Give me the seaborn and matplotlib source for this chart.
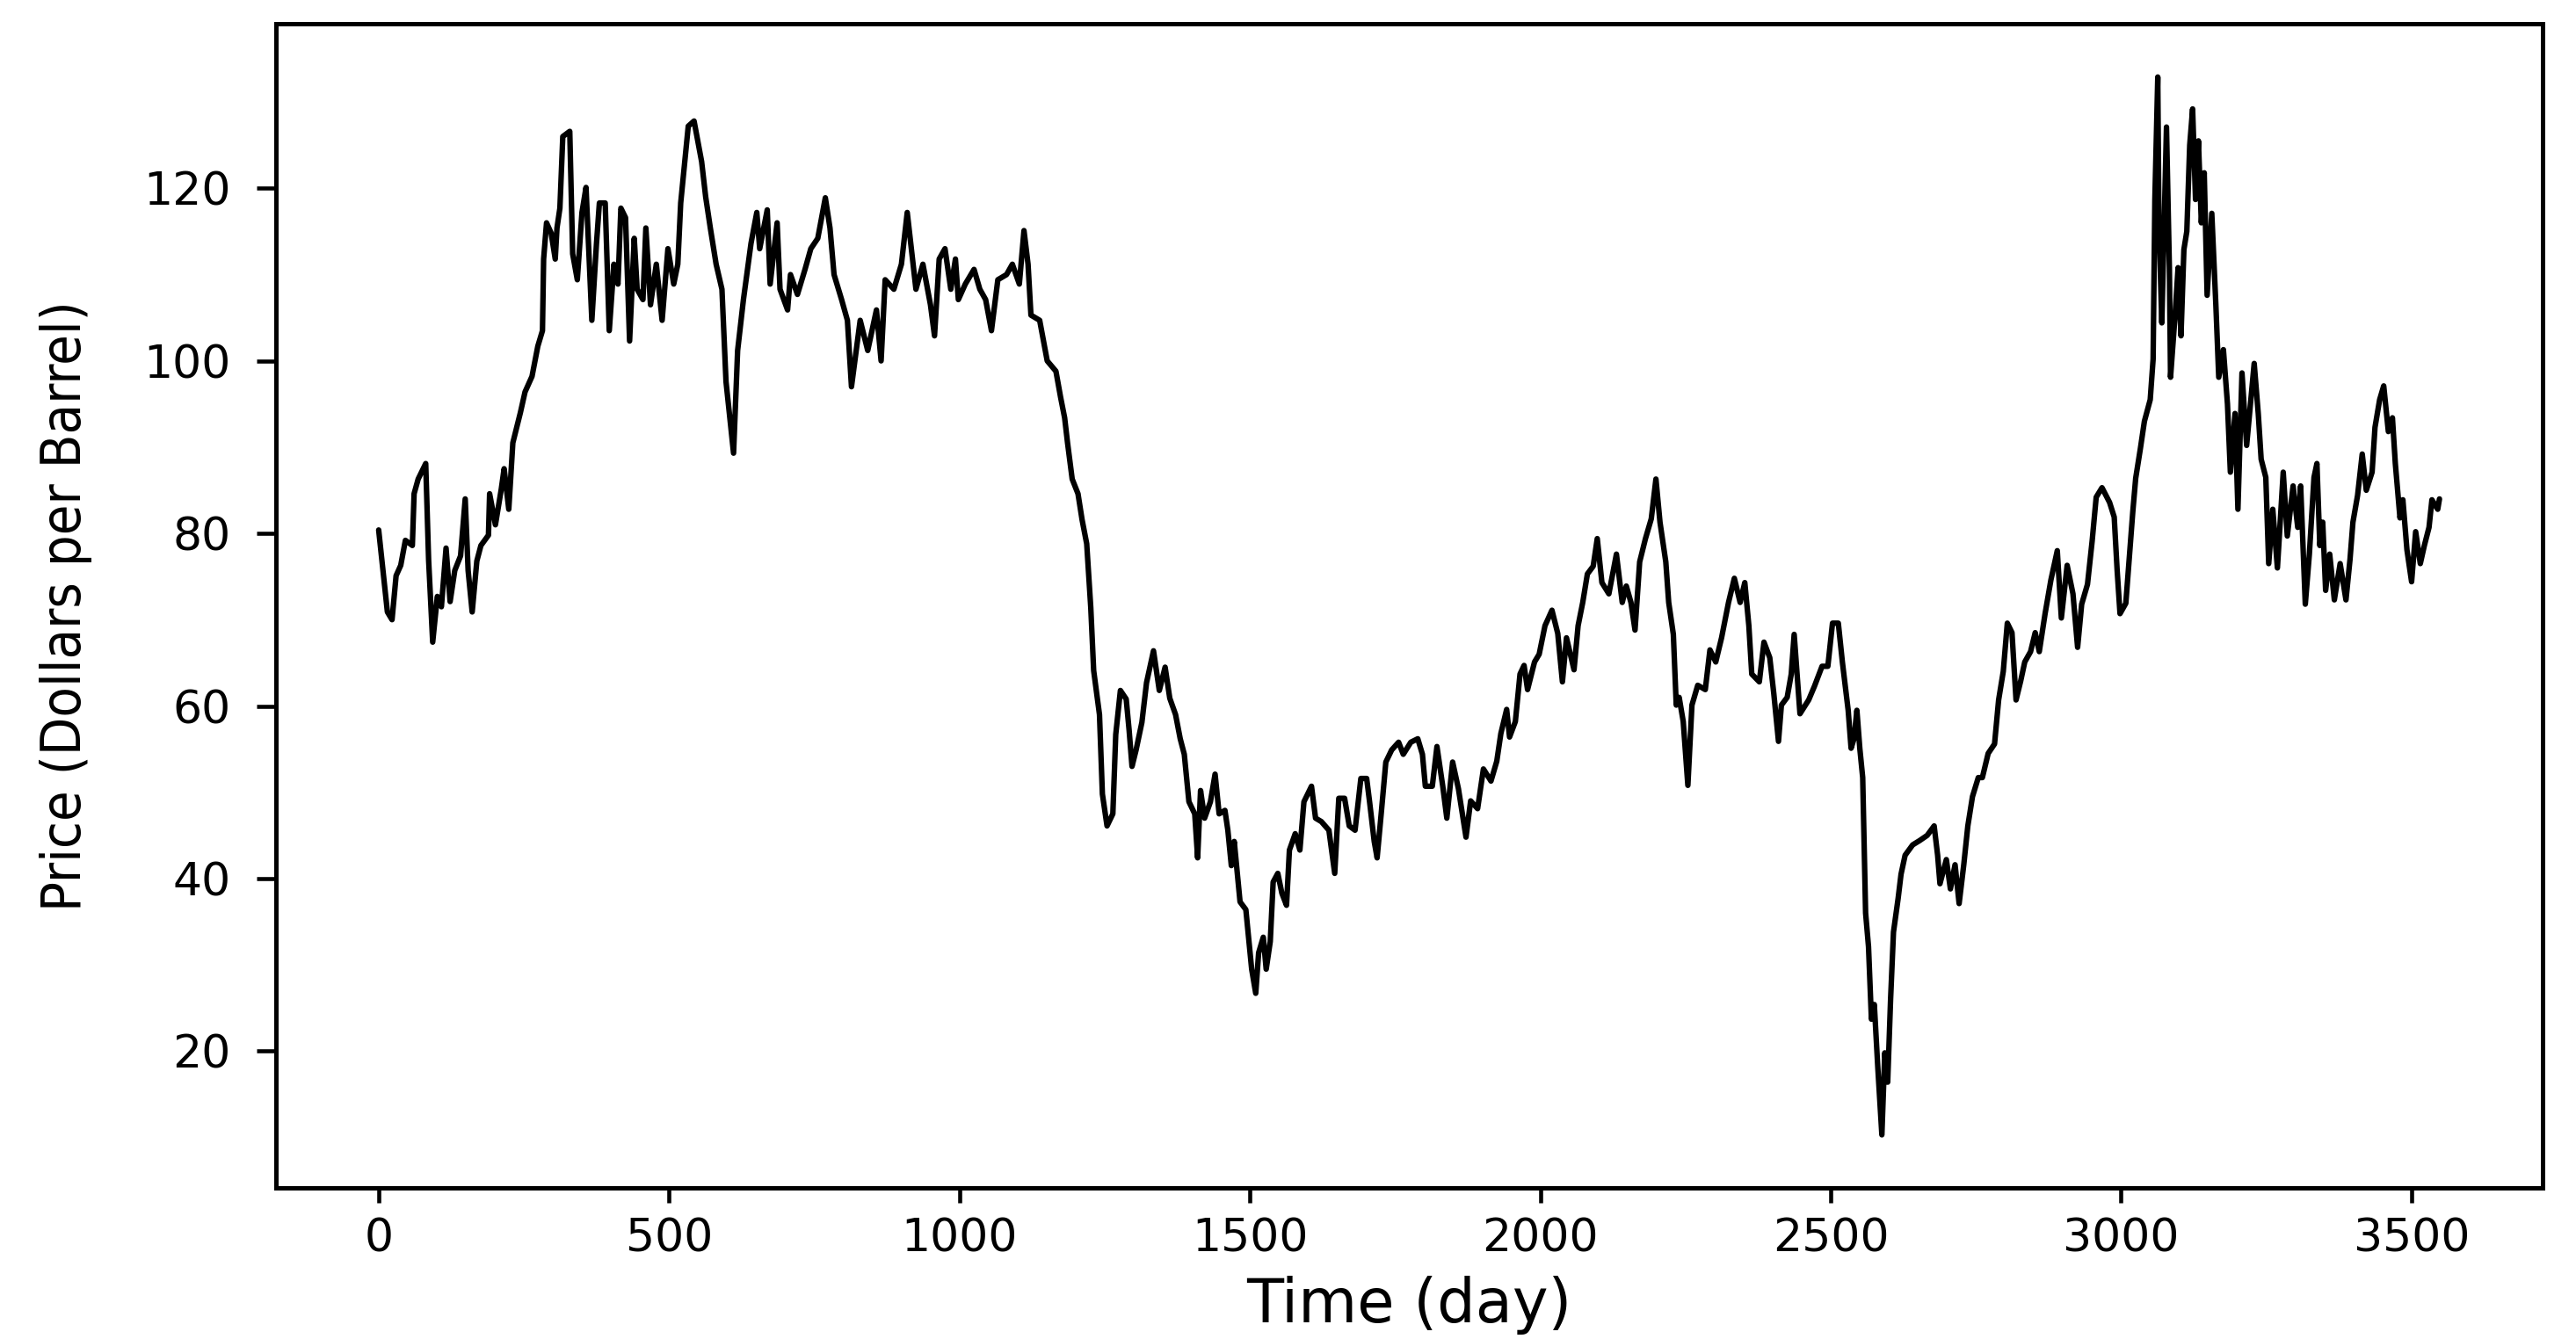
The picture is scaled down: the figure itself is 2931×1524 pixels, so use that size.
import pandas as pd
import matplotlib.pyplot as plt
import seaborn as sns
from matplotlib import font_manager

# daily price, split into chunks of roughly 600 days
days_a = [0, 15, 23, 30, 38, 46, 58, 61, 68, 81, 86, 93, 101, 108, 116, 123,
          131, 141, 149, 154, 161, 169, 176, 189, 191, 201, 211, 216, 224,
          231, 244, 252, 264, 274, 282, 284, 289, 297, 304, 307, 312, 317,
          329, 334, 342, 350, 357, 367, 375, 380, 390, 397, 405, 412, 417,
          425, 432, 440, 445, 455, 460, 468, 478, 488, 498, 508, 515, 520,
          533, 543, 556, 563, 571, 581, 591, 598, 611]
price_a = [80.4, 70.9, 70.0, 75.1, 76.3, 79.2, 78.6, 84.6, 86.3, 88.1, 76.9,
           67.4, 72.7, 71.5, 78.3, 72.1, 75.7, 77.4, 84.0, 75.7, 70.9, 76.8,
           78.6, 79.8, 84.6, 81.0, 85.1, 87.5, 82.8, 90.5, 94.0, 96.4, 98.2,
           101.7, 103.5, 111.8, 116.0, 114.8, 111.8, 115.4, 117.7, 126.0,
           126.6, 112.4, 109.4, 117.2, 120.1, 104.7, 113.6, 118.3, 118.3,
           103.5, 111.2, 108.9, 117.7, 116.6, 102.3, 114.2, 108.3, 107.1,
           115.4, 106.5, 111.2, 104.7, 113.0, 108.9, 111.2, 118.3, 127.2,
           127.8, 123.1, 119.0, 115.4, 111.2, 108.3, 97.6, 89.3]

days_b = [618, 628, 641, 651, 656, 669, 674, 686, 691, 704, 709, 721, 734,
          744, 756, 769, 777, 784, 797, 807, 814, 829, 842, 857, 865, 872,
          887, 900, 910, 917, 925, 937, 950, 957, 965, 975, 985, 993, 998,
          1010, 1025, 1035, 1045, 1055, 1066, 1081, 1091, 1103, 1111, 1118,
          1123, 1138, 1151, 1166, 1174, 1181, 1186, 1194, 1204, 1211]
price_b = [101.2, 107.1, 113.6, 117.2, 113.0, 117.5, 108.9, 116.0, 108.3,
           105.9, 110.0, 107.7, 110.6, 113.0, 114.2, 118.9, 115.4, 110.0,
           107.1, 104.7, 97.0, 104.7, 101.2, 105.9, 100.0, 109.4, 108.3,
           111.2, 117.2, 113.0, 108.3, 111.2, 106.5, 102.9, 111.8, 113.0,
           108.3, 111.8, 107.1, 108.9, 110.6, 108.3, 107.1, 103.5, 109.4,
           110.0, 111.2, 108.9, 115.1, 111.2, 105.3, 104.7, 100.0, 98.8,
           95.8, 93.4, 90.5, 86.3, 84.6, 81.6]

days_c = [1219, 1226, 1231, 1241, 1246, 1254, 1264, 1269, 1277, 1287, 1292,
          1297, 1304, 1314, 1322, 1334, 1344, 1354, 1362, 1372, 1380, 1387,
          1395, 1405, 1410, 1415, 1422, 1432, 1440, 1447, 1457, 1462, 1468,
          1473, 1483, 1493, 1503, 1510, 1515, 1523, 1528, 1535, 1540, 1548,
          1555, 1563, 1568, 1578, 1586, 1593, 1606, 1613, 1623, 1636, 1646,
          1653, 1663, 1671, 1681, 1691, 1701, 1706, 1714, 1719, 1726, 1734,
          1744, 1756, 1764, 1777, 1789, 1797, 1802, 1814, 1822, 1832, 1839,
          1849]
price_c = [78.8, 71.4, 64.1, 59.0, 49.8, 46.1, 47.5, 56.7, 61.8, 60.8, 57.2,
           53.0, 54.9, 58.1, 62.7, 66.4, 61.8, 64.5, 60.9, 59.0, 56.2, 54.4,
           48.9, 47.5, 42.4, 50.2, 47.0, 48.9, 52.1, 47.5, 47.9, 45.6, 41.5,
           44.3, 37.3, 36.4, 29.5, 26.7, 31.4, 33.2, 29.5, 32.7, 39.6, 40.6,
           38.3, 36.9, 43.3, 45.2, 43.3, 48.9, 50.7, 47.0, 46.6, 45.6, 40.6,
           49.3, 49.3, 46.1, 45.6, 51.6, 51.6, 48.9, 44.3, 42.4, 47.5, 53.5,
           54.9, 55.8, 54.4, 55.8, 56.2, 54.4, 50.7, 50.7, 55.3, 50.7, 47.0,
           53.5]

days_d = [1859, 1872, 1880, 1892, 1902, 1915, 1925, 1932, 1942, 1947, 1957,
          1965, 1972, 1978, 1990, 1998, 2008, 2020, 2030, 2038, 2045, 2058,
          2065, 2073, 2081, 2091, 2098, 2106, 2118, 2131, 2141, 2148, 2156,
          2163, 2171, 2181, 2191, 2199, 2206, 2216, 2221, 2229, 2234, 2239,
          2246, 2254, 2261, 2271, 2284, 2292, 2302, 2312, 2324, 2334, 2344,
          2352, 2359, 2364, 2377, 2385, 2395, 2402, 2410, 2415, 2425, 2432,
          2437, 2447]
price_d = [50.4, 44.8, 49.0, 48.1, 52.7, 51.3, 53.6, 56.8, 59.6, 56.4, 58.2,
           63.7, 64.7, 61.9, 65.1, 66.0, 69.3, 71.1, 68.4, 62.8, 67.9, 64.2,
           69.3, 72.0, 75.3, 76.2, 79.4, 74.3, 73.0, 77.6, 72.0, 73.9, 72.0,
           68.8, 76.7, 79.4, 81.7, 86.3, 81.3, 76.7, 72.0, 68.3, 60.1, 61.0,
           58.2, 50.8, 60.1, 62.4, 61.9, 66.5, 65.1, 67.9, 72.0, 74.8, 72.0,
           74.3, 69.3, 63.7, 62.8, 67.4, 65.6, 61.4, 55.9, 60.1, 61.0, 63.7,
           68.3, 59.1]

days_e = [2462, 2472, 2485, 2495, 2503, 2513, 2520, 2530, 2535, 2540, 2545,
          2550, 2555, 2560, 2565, 2570, 2575, 2581, 2588, 2593, 2598, 2603,
          2608, 2616, 2621, 2628, 2641, 2653, 2666, 2678, 2684, 2688, 2699,
          2706, 2714, 2721, 2729, 2736, 2744, 2754, 2761, 2771, 2782, 2789,
          2797, 2804, 2812, 2819, 2827, 2834, 2844, 2852, 2859, 2869, 2879,
          2890, 2897, 2907, 2917, 2925, 2932, 2942, 2950, 2957, 2967, 2980,
          2988, 2993, 2998, 3008, 3015, 3020, 3025, 3033, 3040]
price_e = [60.7, 62.3, 64.6, 64.6, 69.6, 69.6, 65.1, 59.5, 55.1, 56.2, 59.5,
           55.1, 51.7, 36.0, 32.1, 23.7, 25.4, 18.1, 10.3, 19.8, 16.4, 26.0,
           33.8, 37.7, 40.5, 42.7, 43.9, 44.4, 45.0, 46.1, 42.7, 39.4, 42.2,
           38.8, 41.6, 37.1, 41.6, 46.1, 49.5, 51.7, 51.7, 54.5, 55.6, 60.7,
           64.0, 69.6, 68.5, 60.7, 62.9, 65.1, 66.3, 68.5, 66.3, 70.7, 74.6,
           78.0, 70.2, 76.3, 73.0, 66.8, 71.8, 74.1, 79.1, 84.2, 85.3, 83.6,
           81.9, 75.8, 70.7, 71.9, 78.0, 82.5, 86.4, 89.8, 93.0]

days_f = [3050, 3055, 3058, 3063, 3065, 3070, 3078, 3083, 3085, 3093, 3098,
          3103, 3108, 3113, 3118, 3123, 3128, 3133, 3138, 3143, 3148, 3156,
          3163, 3168, 3176, 3183, 3188, 3196, 3201, 3208, 3216, 3224, 3229,
          3236, 3241, 3249, 3254, 3261, 3269, 3279, 3286, 3296, 3304, 3309,
          3317, 3324, 3332, 3337, 3342, 3347, 3352, 3359, 3367, 3377, 3387,
          3394, 3399, 3407, 3415, 3422, 3432, 3437, 3445, 3452, 3460, 3467,
          3472, 3480, 3485, 3492, 3500, 3507, 3515, 3522, 3530, 3535, 3545,
          3548]
price_f = [95.5, 100.2, 118.7, 132.9, 116.0, 104.4, 127.1, 110.8, 98.1,
           105.5, 110.8, 102.9, 112.9, 115.0, 125.0, 129.2, 118.7, 125.5,
           116.0, 121.8, 107.6, 117.1, 106.5, 98.1, 101.3, 95.0, 87.1, 93.9,
           82.8, 98.6, 90.2, 96.0, 99.7, 93.9, 88.6, 86.5, 76.5, 82.8, 76.0,
           87.1, 79.7, 85.5, 80.7, 85.5, 71.8, 77.6, 86.5, 88.1, 78.6, 81.3,
           73.4, 77.6, 72.3, 76.5, 72.3, 77.0, 81.3, 84.4, 89.2, 85.0, 87.1,
           92.3, 95.5, 97.1, 91.8, 93.4, 88.1, 81.8, 83.9, 78.1, 74.4, 80.2,
           76.5, 78.6, 80.7, 83.9, 82.8, 84.0]

x_ticks = [0, 500, 1000, 1500, 2000, 2500, 3000, 3500]
y_ticks = [20, 40, 60, 80, 100, 120]


def narrow_font():
    '''
    Looks for a condensed / narrow regular font among the installed ones.
    Returns its file path, or None if there is none.
    '''
    for f in font_manager.fontManager.ttflist:
        narrow = (f.stretch in ('condensed', 'semi-condensed',
                                'extra-condensed')
                  or 'Narrow' in f.name or 'Condensed' in f.name)
        if narrow and f.style == 'normal' and f.weight in (400, 'normal',
                                                           'regular'):
            return f.fname
    return None


def main():
    sns.set_style('ticks')
    plt.rcParams['font.family'] = ['DejaVu Sans']
    plt.rcParams['text.color'] = 'black'
    plt.rcParams['axes.labelcolor'] = 'black'
    plt.rcParams['xtick.color'] = 'black'
    plt.rcParams['ytick.color'] = 'black'

    oil = pd.DataFrame({
        'day': days_a + days_b + days_c + days_d + days_e + days_f,
        'price': price_a + price_b + price_c + price_d + price_e + price_f,
    })

    fig, ax = plt.subplots(figsize=(9.77, 5.08), dpi=300)
    fig.subplots_adjust(left=0.107, right=0.987, bottom=0.113, top=0.982)

    sns.lineplot(data=oil, x='day', y='price', color='black', lw=1.5,
                 ax=ax)

    ax.set_xticks(x_ticks)
    ax.set_yticks(y_ticks)
    ax.tick_params(axis='x', labelsize=12.5, length=4, width=1.1, pad=4)
    ax.tick_params(axis='y', labelsize=12.5, length=5.3, width=1.1, pad=7)
    for spine in ax.spines.values():
        spine.set_linewidth(1.2)
        spine.set_color('black')

    ax.set_xlabel('Time (day)', fontsize=16.5, labelpad=4)

    # y label: condensed face if one is installed, sized to the reference
    path = narrow_font()
    if path:
        prop = font_manager.FontProperties(fname=path, size=16)
    else:
        prop = font_manager.FontProperties(family='DejaVu Sans', size=14)
    ylab = ax.set_ylabel('Price (Dollars per Barrel)', fontproperties=prop)
    fig.canvas.draw()
    length = ylab.get_window_extent().height
    prop.set_size(prop.get_size() * 695 / length)
    ylab.set_fontproperties(prop)
    ax.yaxis.set_label_coords(-0.0807, 0.5)

    fig.savefig('out.png', dpi=300)


if __name__ == '__main__':
    main()
